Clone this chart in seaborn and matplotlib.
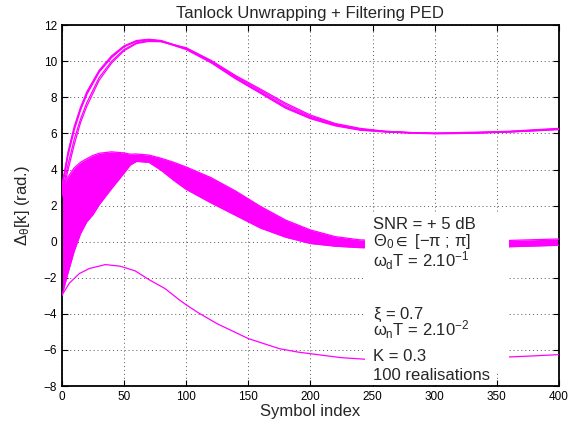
import matplotlib
matplotlib.use("Agg")
import matplotlib.pyplot as plt
from matplotlib.patches import Rectangle
import numpy as np
import pandas as pd
import seaborn as sns

# ---- data ----
# upper cluster (locks on 2*pi)
x_top = [0, 5, 10, 15, 20, 30, 40, 50, 60, 70, 80, 100, 120, 140, 160, 180,
         200, 220, 240, 260, 280, 300, 320, 340, 360, 380, 400]
top_1 = [3.1, 5.0, 6.4, 7.45, 8.3, 9.5, 10.3, 10.85, 11.15, 11.22, 11.15, 10.7, 9.98, 9.1,
         8.3, 7.5, 6.9, 6.48, 6.22, 6.12, 6.05, 6.02, 6.05, 6.08, 6.12, 6.2, 6.28]
top_2 = [2.9, 4.8, 6.2, 7.3, 8.15, 9.4, 10.2, 10.8, 11.12, 11.2, 11.12, 10.68, 9.95, 9.05,
         8.25, 7.45, 6.85, 6.45, 6.2, 6.1, 6.03, 6.0, 6.02, 6.06, 6.1, 6.17, 6.25]
top_3 = [2.7, 4.3, 5.7, 6.8, 7.7, 9.1, 10.0, 10.65, 11.02, 11.15, 11.1, 10.72, 10.02, 9.15,
         8.38, 7.6, 6.95, 6.52, 6.25, 6.1, 6.04, 6.0, 6.0, 6.05, 6.1, 6.18, 6.25]
top_4 = [2.5, 4.0, 5.4, 6.6, 7.5, 8.95, 9.9, 10.58, 10.98, 11.1, 11.08, 10.75, 10.05, 9.2,
         8.45, 7.68, 7.02, 6.55, 6.28, 6.12, 6.05, 6.0, 6.01, 6.04, 6.08, 6.15, 6.22]
top_5 = [3.0, 4.9, 6.3, 7.35, 8.2, 9.45, 10.25, 10.82, 11.1, 11.18, 11.1, 10.65, 9.92, 9.02,
         8.22, 7.4, 6.82, 6.42, 6.18, 6.08, 6.02, 5.98, 6.0, 6.03, 6.08, 6.14, 6.22]

# middle bundle (locks on 0): envelope of the dense realisations
x_mid = [0, 5, 10, 15, 20, 25, 30, 40, 50, 55, 60, 70, 80, 90, 100, 120, 140, 160,
         180, 200, 220, 240, 260, 300, 350, 400]
mid_hi = [3.0, 3.6, 4.1, 4.4, 4.6, 4.78, 4.9, 4.98, 4.92, 4.85, 4.86, 4.8, 4.62, 4.4,
          4.14, 3.55, 2.8, 1.95, 1.2, 0.65, 0.28, 0.1, 0.05, 0.0, 0.05, 0.15]
mid_lo = [-3.0, -1.7, -0.5, 0.45, 1.1, 1.5, 2.05, 2.95, 3.8, 4.25, 4.45, 4.4, 3.95, 3.4,
          2.9, 2.15, 1.45, 0.75, 0.25, -0.1, -0.25, -0.33, -0.35, -0.35, -0.3, -0.2]

# lower single realisation (locks on -2*pi)
x_low = [0, 6, 14, 22, 35, 47, 59, 71, 83, 94, 100, 110, 125, 150, 175, 190, 200,
         225, 245, 260, 300, 340, 360, 380, 400]
y_low = [-2.97, -2.3, -1.77, -1.49, -1.27, -1.36, -1.62, -2.14, -2.6, -3.2, -3.5, -3.95,
         -4.55, -5.37, -5.93, -6.12, -6.21, -6.43, -6.52, -6.52, -6.5, -6.42, -6.39, -6.33, -6.26]

x_ticks = [0, 50, 100, 150, 200, 250, 300, 350, 400]
y_ticks = [-8, -6, -4, -2, 0, 2, 4, 6, 8, 10, 12]

info_top = ["SNR = + 5 dB",
            r"$\Theta_0 \in$ [" + "\u2212\u03c0 ; \u03c0]",
            r"$\omega_d$T = 2.10$^{-1}$"]
info_bot = [r"$\xi$ = 0.7", r"$\omega_n$T = 2.10$^{-2}$", "K = 0.3", "100 realisations"]

# ---- style ----
sns.set_style("ticks")
plt.rcParams['font.family'] = ['Liberation Sans', 'DejaVu Sans']
plt.rcParams['mathtext.fontset'] = 'custom'
plt.rcParams['mathtext.rm'] = 'Liberation Sans'
plt.rcParams['mathtext.it'] = 'Liberation Sans'
plt.rcParams['mathtext.bf'] = 'Liberation Sans:bold'
plt.rcParams['mathtext.fallback'] = 'stixsans'
plt.rcParams['xtick.direction'] = 'in'
plt.rcParams['ytick.direction'] = 'in'

MAG = '#ff00ff'

fig = plt.figure(figsize=(5.84, 4.24), dpi=100)
ax = fig.add_axes([0.106, 0.0896, 0.851, 0.851])

# long form table for the individual curves
rows = []
for i, yy in enumerate([top_1, top_2, top_3, top_4, top_5]):
    rows += [{'x': a, 'y': b, 'run': f't{i}'} for a, b in zip(x_top, yy)]
rows += [{'x': a, 'y': b, 'run': 'low'} for a, b in zip(x_low, y_low)]
df = pd.DataFrame(rows)

ax.fill_between(x_mid, mid_lo, mid_hi, color=MAG, linewidth=0, zorder=2)
sns.lineplot(data=df, x='x', y='y', units='run', estimator=None, color=MAG,
             linewidth=0.9, ax=ax, zorder=3, legend=False)
ax.plot(x_mid, mid_hi, color=MAG, lw=0.9, zorder=3)
ax.plot(x_mid, mid_lo, color=MAG, lw=0.9, zorder=3)

ax.set_xlim(0, 400)
ax.set_ylim(-8, 12)
ax.set_xticks(x_ticks)
ax.set_yticks(y_ticks)
ax.set_yticklabels([str(v).replace('-', '\u2212') for v in y_ticks])
ax.tick_params(labelsize=8.5, length=4, width=0.8, top=True, right=True, colors='black')
ax.grid(True, linestyle=(0, (1, 3)), color='#555555', linewidth=0.7)
for s in ax.spines.values():
    s.set_linewidth(1.3)
    s.set_color('black')
    s.set_visible(True)

# white box behind the annotations
ax.add_patch(Rectangle((244, -7.2), 116, 8.8, facecolor='white', edgecolor='none', zorder=4))

top_base = [0.73, -0.24, -1.4]
bot_base = [-4.27, -5.19, -6.62, -7.65]
for s, yb in zip(info_top, top_base):
    ax.text(250, yb, s, fontsize=12, va='baseline', ha='left', zorder=5)
for s, yb in zip(info_bot, bot_base):
    kw = {}
    if s.startswith('100'):
        kw['bbox'] = dict(facecolor='white', edgecolor='none', pad=1.5)
    ax.text(250, yb, s, fontsize=12, va='baseline', ha='left', zorder=5, **kw)

ax.set_title('Tanlock Unwrapping + Filtering PED', fontsize=12, pad=5)
ax.set_xlabel('Symbol index', fontsize=12, labelpad=1)
ax.set_ylabel(r'$\Delta_\theta$[k] (rad.)', fontsize=12, labelpad=8)

fig.savefig('out.png', dpi=100)
